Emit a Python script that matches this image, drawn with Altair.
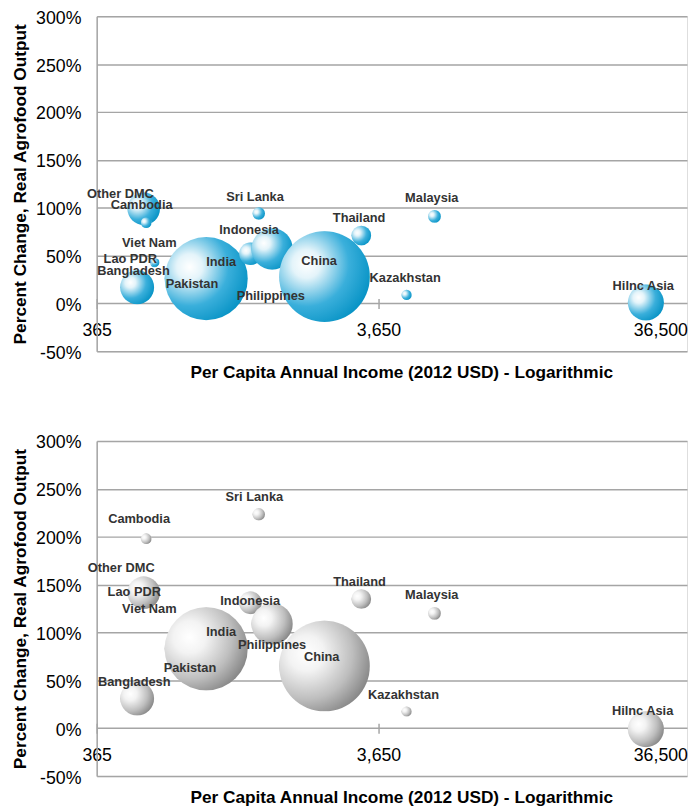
import altair as alt
import pandas as pd

# ---------------- data ----------------
countries = ["Pakistan", "Lao PDR", "Viet Nam", "Other DMC", "Cambodia", "Bangladesh",
             "India", "Indonesia", "Philippines", "Sri Lanka", "China", "Thailand",
             "Malaysia", "Kazakhstan", "Hilnc Asia"]
# per capita income, 2012 USD
income = [880, 585, 590, 536, 547, 508, 893, 1282, 1530, 1372, 2348, 3171, 5767, 4591, 32430]
# relative bubble size (area)
bubble = [196, 16, 16, 272, 30, 296, 1781, 132, 441, 40, 2116, 100, 42, 27, 335]
# percent change, real agrofood output
change_top = [26, 42, 43, 99, 84.5, 17, 26, 52, 57, 94, 28, 71, 91, 9, 1]
change_bottom = [83, 140, 141, 141.5, 198, 31, 83, 131, 109, 223.5, 65, 135, 120, 17.5, -1]

# label anchor points (data units)
label_x_top = [795, 480, 561, 443, 527, 493, 1009, 1268, 1514, 1331, 2247, 3115, 5640, 4537, 31750]
label_y_top = [19.9, 46.1, 62.9, 114.7, 102.8, 33.7, 43.3, 76.6, 8.2, 111.3, 44, 89.7, 110, 26.1, 18.2]
label_x_bottom = [782, 496, 561, 446, 516, 496, 1009, 1279, 1530, 1323, 2294, 3125, 5640, 4475, 31570]
label_y_bottom = [63, 142.6, 124.3, 167, 219, 47.8, 100.2, 133, 87.1, 241.4, 74.4, 152.6, 138.7, 34.8, 17.6]

x_ticks = [365, 3650, 36500]
y_ticks = [-50, 0, 50, 100, 150, 200, 250, 300]

# ---------------- styling ----------------
FONT = "Liberation Sans"
TEXT = "#333333"
GRID = "#A5A5A5"
W, H = 599, 340

blue_grad = {
    "gradient": "radial",
    "x1": 0.3, "y1": 0.36, "r1": 0.0,
    "x2": 0.3, "y2": 0.36, "r2": 0.78,
    "stops": [
        {"offset": 0.0, "color": "#FFFFFF"},
        {"offset": 0.2, "color": "#E4F4FA"},
        {"offset": 0.6, "color": "#3AAFDB"},
        {"offset": 1.0, "color": "#008FC2"},
    ],
}
grey_grad = {
    "gradient": "radial",
    "x1": 0.3, "y1": 0.36, "r1": 0.0,
    "x2": 0.3, "y2": 0.36, "r2": 0.78,
    "stops": [
        {"offset": 0.0, "color": "#FFFFFF"},
        {"offset": 0.25, "color": "#F3F3F3"},
        {"offset": 0.65, "color": "#BEBEBE"},
        {"offset": 1.0, "color": "#7E7E7E"},
    ],
}


def x_enc():
    return alt.X(
        "income:Q",
        scale=alt.Scale(type="log", domain=[365, 45380], nice=False),
        axis=alt.Axis(
            values=x_ticks, format=",", grid=False, domain=False,
            ticks=True, tickSize=10, tickColor=GRID, tickWidth=1.5,
            labelFlush=False, labelPadding=13.5, labelFontSize=18,
            offset=-(H / 7 + 5), titleY=66, titleX=309,
            title="Per Capita Annual Income (2012 USD) - Logarithmic",
            titleFontSize=17.5, titleFontWeight="bold",
        ),
    )


def y_enc():
    return alt.Y(
        "change:Q",
        scale=alt.Scale(domain=[-50, 300], nice=False, zero=False),
        axis=alt.Axis(
            values=y_ticks, labelExpr="datum.value + '%'",
            grid=True, gridColor=GRID, gridWidth=1.5,
            domain=True, domainColor=GRID, domainWidth=1.5,
            ticks=False, labelPadding=16, labelOffset=2, labelFontSize=18,
            title="Percent Change, Real Agrofood Output",
            titleX=-72.5, titleBaseline="alphabetic",
            titleFontSize=17.5, titleFontWeight="bold",
        ),
    )


def panel(changes, lx, ly, grad):
    df = pd.DataFrame({
        "name": countries, "income": income, "change": changes,
        "bubble": bubble, "idx": list(range(len(countries))),
    })
    ldf = pd.DataFrame({"name": countries, "income": lx, "change": ly})
    bubbles = alt.Chart(df).mark_circle(color=grad, opacity=1, strokeWidth=0).encode(
        x=x_enc(), y=y_enc(),
        size=alt.Size("bubble:Q",
                      scale=alt.Scale(type="linear", domain=[0, 2116], range=[0, 8464], zero=True),
                      legend=None),
        order=alt.Order("idx:Q"),
    )
    labels = alt.Chart(ldf).mark_text(
        font=FONT, fontSize=13, fontWeight="bold", color=TEXT,
        align="center", baseline="middle",
    ).encode(x=x_enc(), y=y_enc(), text="name:N")
    return alt.layer(bubbles, labels).properties(width=W, height=H)


top = panel(change_top, label_x_top, label_y_top, blue_grad)
bottom = panel(change_bottom, label_x_bottom, label_y_bottom, grey_grad)

chart = alt.vconcat(top, bottom, spacing=52).properties(
    padding={"left": 2, "top": -5.5, "right": 0, "bottom": 0},
    background="white",
).configure_view(stroke=None).configure_axis(
    labelFont=FONT, titleFont=FONT, labelColor=TEXT, titleColor=TEXT,
).configure(font=FONT)

chart.save("out.html", embed_options={"renderer": "svg", "actions": False})
